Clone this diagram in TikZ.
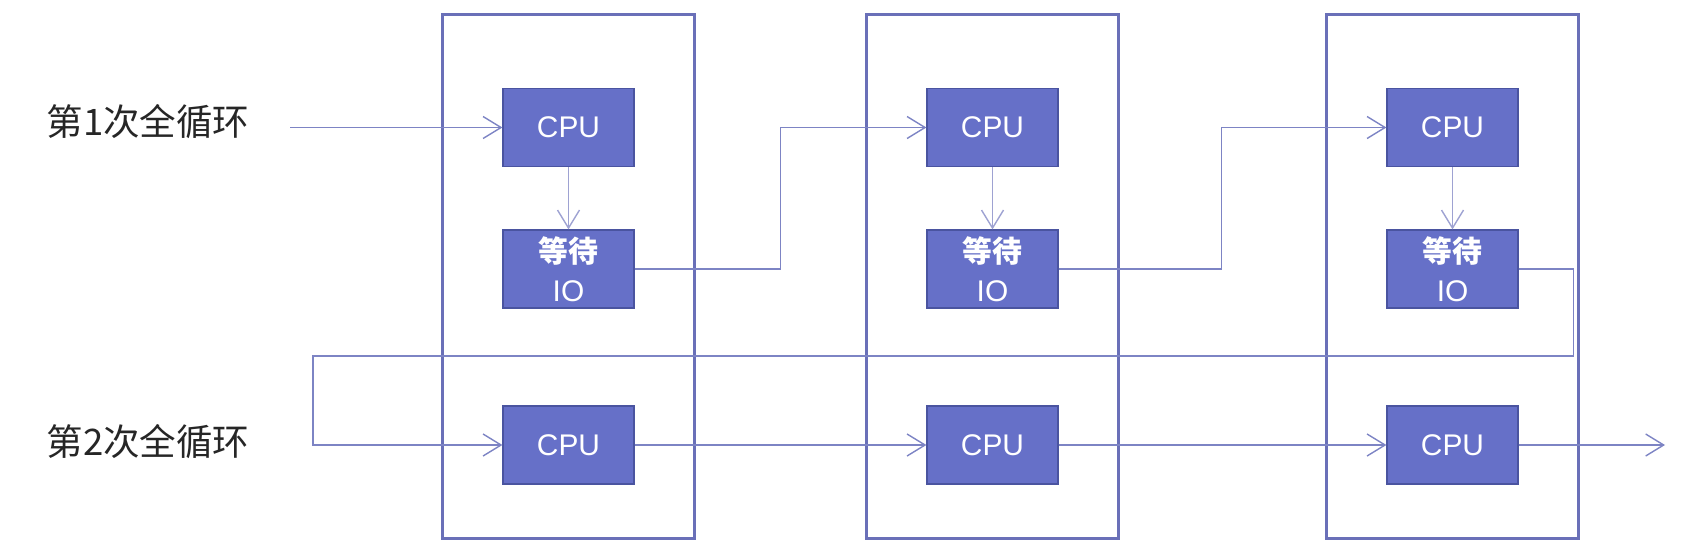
\documentclass[tikz,border=0pt]{standalone}
\usepackage{fontspec}
\setmainfont{Liberation Sans}
\newfontfamily\cjk{Noto Sans CJK SC}
\usetikzlibrary{arrows.meta}

\definecolor{boxfill}{HTML}{6670C8}
\definecolor{boxline}{HTML}{4A54A0}
\definecolor{frameline}{HTML}{6A70B8}
\definecolor{flowline}{HTML}{7D84C4}
\definecolor{downline}{HTML}{9EA2D2}

\tikzset{
  task/.style={draw=boxline, fill=boxfill, line width=0.7pt, text=white,
    minimum width=2.62cm, minimum height=1.56cm, inner sep=0pt, align=center,
    font=\fontsize{17}{22}\selectfont},
  frame/.style={draw=frameline, line width=1.7pt, minimum width=5.06cm,
    minimum height=10.5cm, inner sep=0pt},
  flow/.style={draw=flowline, line width=0.8pt,
    -{Straight Barb[length=0.36cm, width=0.44cm, line width=0.8pt]}},
  down/.style={flow, draw=downline},
  loop label/.style={text=black!85, font=\cjk\fontsize{20.8}{24}\selectfont}
}

\begin{document}
\begin{tikzpicture}[x=0.02cm, y=-0.02cm]
\useasboundingbox (0,0) rectangle (1684,548);

% Columns
\node[frame] (col1) at (568.5,276.5) {};
\node[frame] (col2) at (992.5,276.5) {};
\node[frame] (col3) at (1452.5,276.5) {};

% Labels
\node[loop label] (lab1) at (148,122) {第1次全循环};
\node[loop label] (lab2) at (148,442) {第2次全循环};

% Column 1
\node[task] (cpu1) at (568.5,127.5) {CPU};
\node[task] (io1) at (568.5,269) {{\cjk\bfseries 等待}\\IO};
\node[task] (cpub1) at (568.5,445) {CPU};

% Column 2
\node[task] (cpu2) at (992.5,127.5) {CPU};
\node[task] (io2) at (992.5,269) {{\cjk\bfseries 等待}\\IO};
\node[task] (cpub2) at (992.5,445) {CPU};

% Column 3
\node[task] (cpu3) at (1452.5,127.5) {CPU};
\node[task] (io3) at (1452.5,269) {{\cjk\bfseries 等待}\\IO};
\node[task] (cpub3) at (1452.5,445) {CPU};

% Free ends
\coordinate (start) at (290,127.5);
\coordinate (loopL) at (313,356);
\coordinate (finish) at (1665,445);

% First loop
\draw[flow] (start) -- (cpu1.west);
\draw[down] (cpu1) -- (io1);
\draw[flow] (io1.east) -- ++(146,0) |- (cpu2.west);
\draw[down] (cpu2) -- (io2);
\draw[flow] (io2.east) -- ++(163,0) |- (cpu3.west);
\draw[down] (cpu3) -- (io3);

% Back to second loop
\draw[flow] (io3.east) -- ++(55,0) |- (loopL) |- (cpub1.west);

% Second loop
\draw[flow] (cpub1) -- (cpub2);
\draw[flow] (cpub2) -- (cpub3);
\draw[flow] (cpub3) -- (finish);
\end{tikzpicture}
\end{document}
